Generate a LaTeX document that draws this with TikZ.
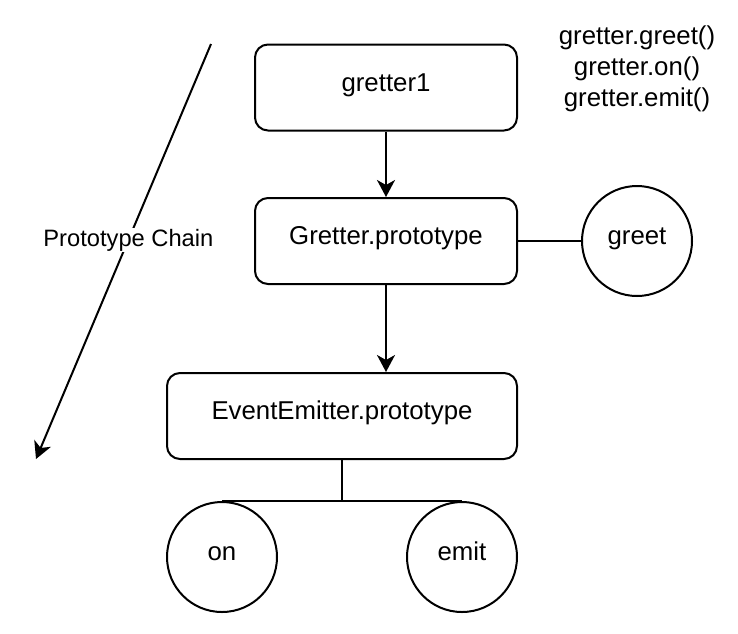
\documentclass[tikz,border=0pt]{standalone}
\usepackage{fontspec}
\setmainfont{Liberation Sans}
\usetikzlibrary{arrows.meta}
\begin{document}
\begin{tikzpicture}[x=1pt,y=-1pt,
  every node/.style={font=\fontsize{25.8}{31}\selectfont, text=black},
  box/.style={draw, line width=2pt, rounded corners=13pt, minimum height=86pt, inner sep=0pt, text height=0.716em, text depth=0pt},
  ball/.style={draw, circle, line width=2pt, minimum size=110pt, inner sep=0pt, text height=0.716em, text depth=0pt},
  link/.style={line width=2pt},
  arr/.style={line width=2pt, -{Stealth[length=17pt, width=18pt, inset=5pt]}},
  lbl/.style={font=\fontsize{23.7}{28}\selectfont, fill=white, inner sep=1pt}]
\useasboundingbox (0,0) rectangle (738,633);
\node[box, minimum width=262pt] (g1) at (386,87.5) {gretter1};
\node[box, minimum width=262pt] (gp) at (386,241) {Gretter.prototype};
\node[box, minimum width=350pt] (ee) at (342,416) {EventEmitter.prototype};
\node[ball] (greet) at (637,241) {greet};
\node[ball] (on) at (222,557) {on};
\node[ball] (emit) at (462,557) {emit};
\node[align=center, inner sep=0pt] (calls) at (637,69) {gretter.greet()\\gretter.on()\\gretter.emit()};
\coordinate (cs) at (211,44);
\coordinate (ce) at (36,459);
\draw[arr] (g1.south) -- (gp.north);
\draw[arr] (gp.south) -- (gp.south |- ee.north);
\draw[link] (gp.east) -- (greet.west);
\draw[link] (ee.south) -- (ee.south |- on.north);
\draw[link] (on.north) -- (emit.north);
\draw[arr] (cs) -- node[lbl, pos=0.472] (chain) {Prototype Chain} (ce);
\end{tikzpicture}
\end{document}
